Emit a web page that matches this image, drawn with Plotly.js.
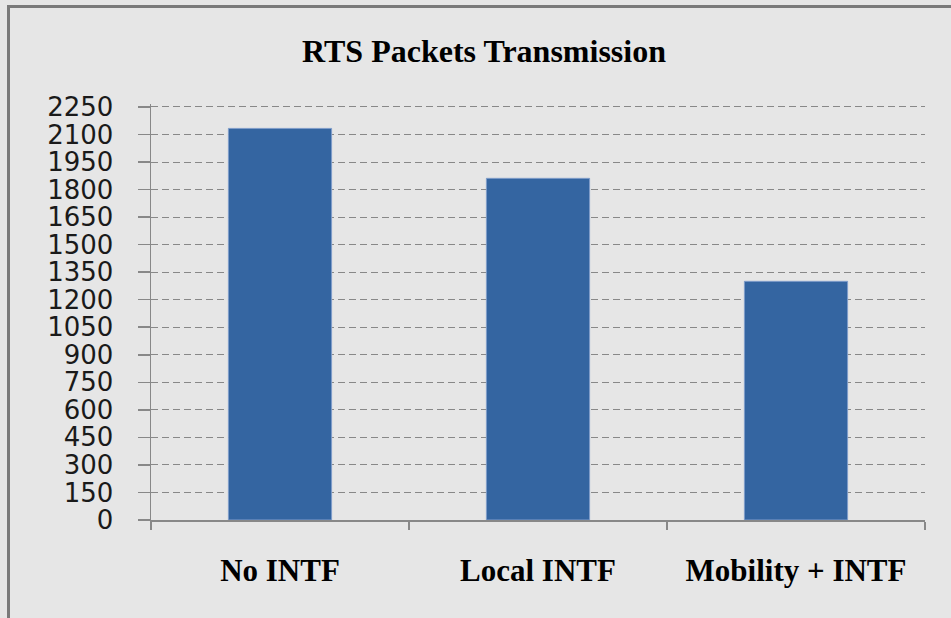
<!DOCTYPE html>
<html>
<head>
<meta charset="utf-8">
<script src="https://cdn.plot.ly/plotly-3.0.1.min.js"></script>
<style>
  html, body { margin: 0; padding: 0; background: #e6e6e6; }
  #chart { position: absolute; left: 0; top: 0; width: 951px; height: 618px; }
  #frame { position: absolute; left: 7px; top: 5px; width: 960px; height: 640px;
           border-left: 3px solid #7a7a7a; border-top: 3px solid #7a7a7a;
           pointer-events: none; z-index: 10; }
</style>
</head>
<body>
<div id="chart"></div>
<div id="frame"></div>
<script>
const categories = ["No INTF", "Local INTF", "Mobility + INTF"];
const rtsPackets = [2133, 1861, 1300];
const yTickValues = [0, 150, 300, 450, 600, 750, 900, 1050, 1200, 1350, 1500, 1650, 1800, 1950, 2100, 2250];

const trace = {
  type: "bar",
  x: categories,
  y: rtsPackets,
  marker: { color: "#3465a1", line: { color: "#7f9dca", width: 1 } },
  hoverinfo: "x+y"
};

const layout = {
  width: 951,
  height: 618,
  paper_bgcolor: "#e6e6e6",
  plot_bgcolor: "#e6e6e6",
  margin: { l: 151, r: 26, t: 104, b: 98, pad: 0 },
  bargap: 0.6,
  showlegend: false,
  title: {
    text: "<b>RTS Packets Transmission</b>",
    font: { family: "Liberation Serif, Times New Roman, serif", size: 32, color: "#000000" },
    xref: "container", yref: "container",
    x: 484 / 951, xanchor: "center",
    y: 1 - 51 / 618, yanchor: "middle"
  },
  xaxis: {
    type: "category",
    tickson: "boundaries",
    ticks: "outside",
    ticklen: 8,
    tickwidth: 1.5,
    tickcolor: "#888888",
    showline: true,
    linecolor: "#888888",
    linewidth: 1.5,
    showgrid: false,
    zeroline: false,
    ticklabelstandoff: 22,
    tickfont: { family: "Liberation Serif, Times New Roman, serif", size: 31, color: "#000000", weight: "bold" }
  },
  yaxis: {
    range: [0, 2266],
    tickvals: yTickValues,
    ticktext: yTickValues.map(String),
    ticks: "outside",
    ticklen: 12,
    tickwidth: 1.5,
    tickcolor: "#888888",
    showline: true,
    linecolor: "#888888",
    linewidth: 1.5,
    showgrid: true,
    gridcolor: "#888888",
    gridwidth: 1,
    griddash: "7px,4px",
    zeroline: false,
    ticklabelstandoff: 19,
    tickfont: { family: "DejaVu Sans, sans-serif", size: 26, color: "#1a1a1a" }
  }
};

Plotly.newPlot("chart", [trace], layout, { displayModeBar: false, staticPlot: true });
</script>
</body>
</html>
